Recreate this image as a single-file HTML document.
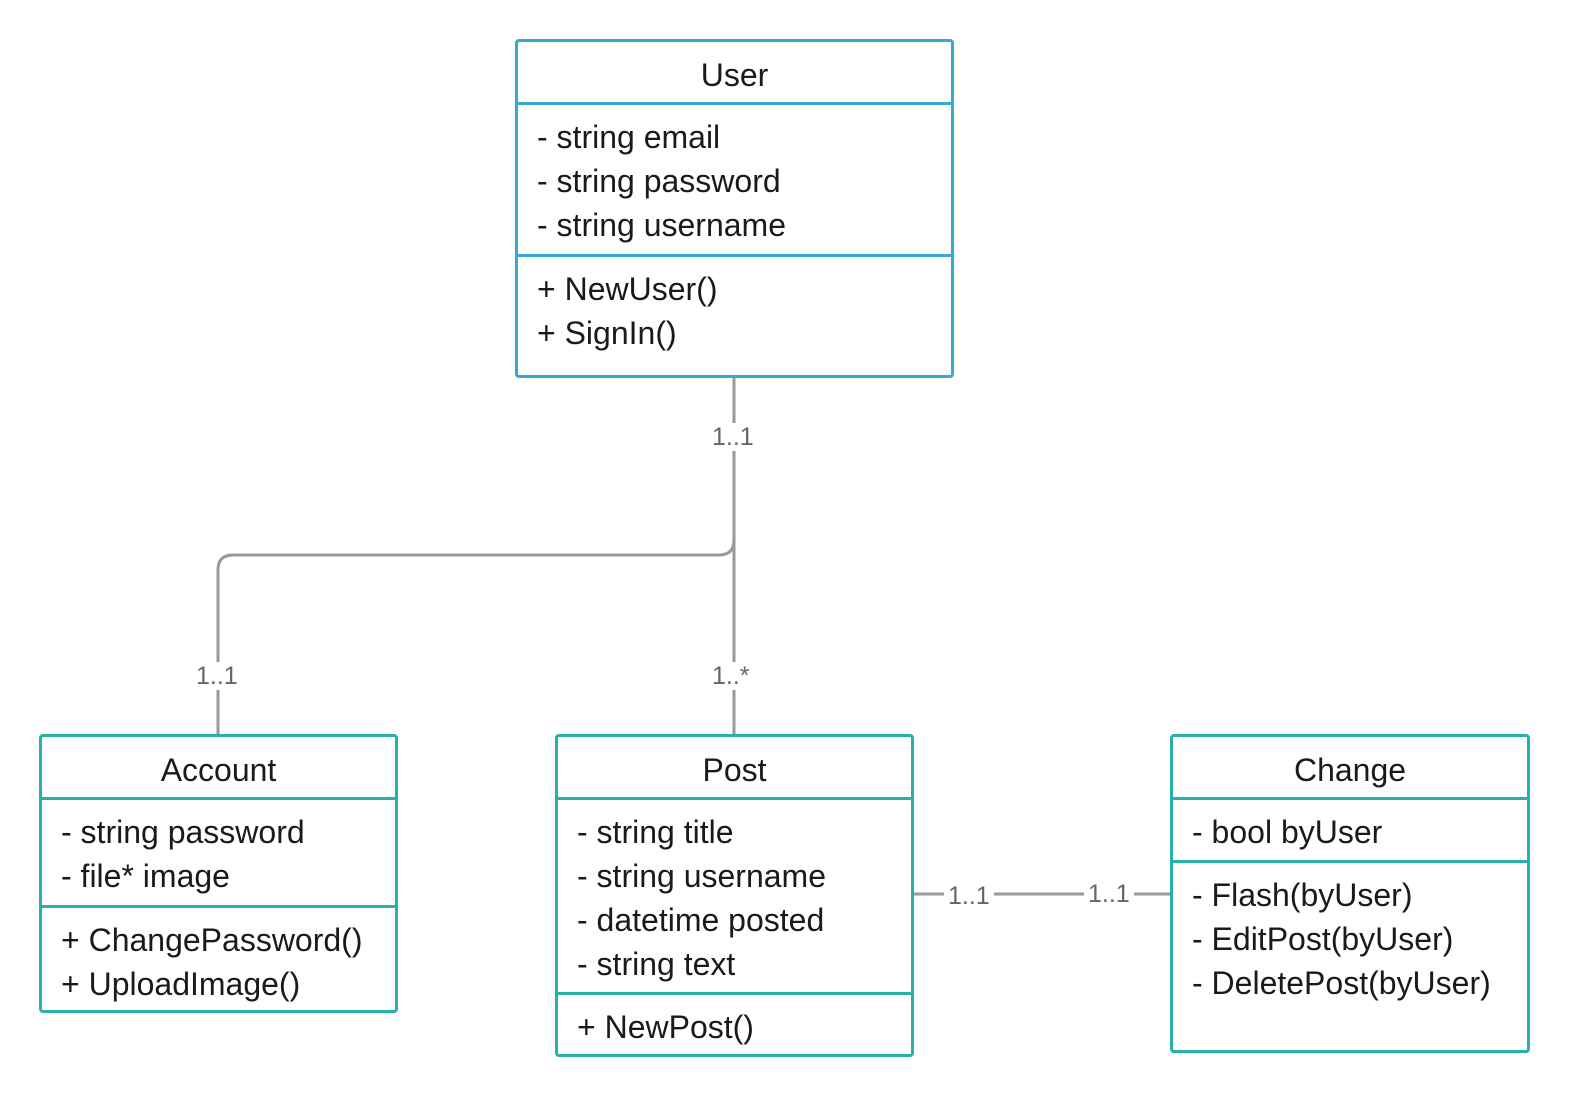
<!DOCTYPE html>
<html><head><style>
body{margin:0;width:1580px;height:1104px;background:#fff;position:relative;font-family:"Liberation Sans",sans-serif;overflow:hidden}
.b{position:absolute;box-sizing:border-box;border:3px solid #28b0ad;border-radius:4px;background:#fff}
.u{border-color:#36a9d4}
.d{position:absolute;left:0;right:0;height:3px;background:inherit}
.t{position:absolute;font-size:32px;color:#1a1a1a;white-space:pre;line-height:44px}
.c{text-align:center;left:0;right:0}
.lb{position:absolute;font-size:25px;color:#666;background:#fff;padding:0 4px;line-height:28px}
</style></head><body>
<svg width="1580" height="1104" style="position:absolute;left:0;top:0">
<g stroke="#999" stroke-width="3" fill="none">
<path d="M734 377 V734"/>
<path d="M734 540 Q734 555 719 555 H233 Q218 555 218 570 V734"/>
<path d="M913 894 H1170"/>
</g></svg>
<div class="lb" style="left:708px;top:423px">1..1</div>
<div class="lb" style="left:708px;top:662px">1..*</div>
<div class="lb" style="left:192px;top:662px">1..1</div>
<div class="lb" style="left:944px;top:882px">1..1</div>
<div class="lb" style="left:1084px;top:880px">1..1</div>

<div class="b u" style="left:515px;top:39px;width:439px;height:339px">
<div class="d" style="top:60px;background:#36a9d4"></div>
<div class="d" style="top:212px;background:#36a9d4"></div>
<div class="t c" style="top:11px">User</div>
<div class="t" style="left:19px;top:73px">- string email
- string password
- string username</div>
<div class="t" style="left:19px;top:225px">+ NewUser()
+ SignIn()</div>
</div>

<div class="b" style="left:39px;top:734px;width:359px;height:279px">
<div class="d" style="top:60px;background:#28b0ad"></div>
<div class="d" style="top:168px;background:#28b0ad"></div>
<div class="t c" style="top:11px">Account</div>
<div class="t" style="left:19px;top:73px">- string password
- file* image</div>
<div class="t" style="left:19px;top:181px">+ ChangePassword()
+ UploadImage()</div>
</div>

<div class="b" style="left:555px;top:734px;width:359px;height:323px">
<div class="d" style="top:60px;background:#28b0ad"></div>
<div class="d" style="top:255px;background:#28b0ad"></div>
<div class="t c" style="top:11px">Post</div>
<div class="t" style="left:19px;top:73px">- string title
- string username
- datetime posted
- string text</div>
<div class="t" style="left:19px;top:268px">+ NewPost()</div>
</div>

<div class="b" style="left:1170px;top:734px;width:360px;height:319px">
<div class="d" style="top:60px;background:#28b0ad"></div>
<div class="d" style="top:123px;background:#28b0ad"></div>
<div class="t c" style="top:11px">Change</div>
<div class="t" style="left:19px;top:73px">- bool byUser</div>
<div class="t" style="left:19px;top:136px">- Flash(byUser)
- EditPost(byUser)
- DeletePost(byUser)</div>
</div>
</body></html>
